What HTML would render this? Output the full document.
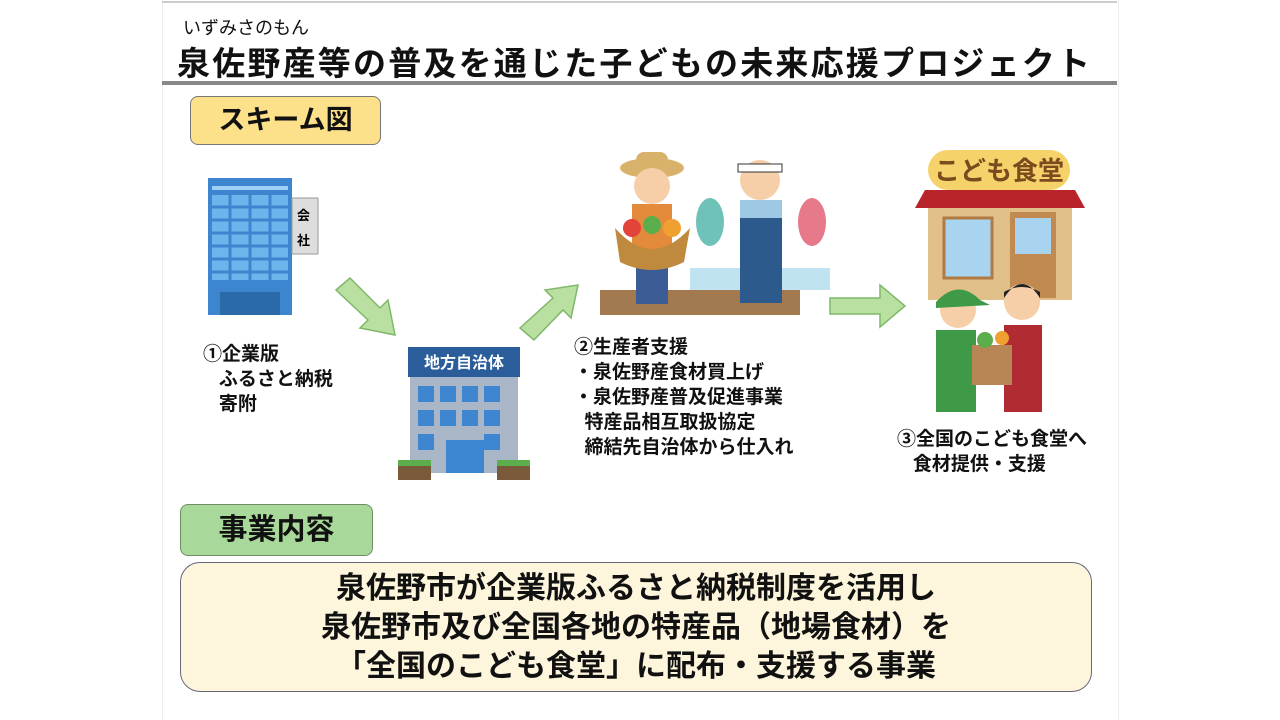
<!DOCTYPE html>
<html><head><meta charset="utf-8"><style>
body{margin:0;width:1280px;height:720px;background:#fff;position:relative;overflow:hidden;font-family:"Liberation Sans","Noto Sans CJK JP",sans-serif;font-weight:bold;color:#111}
.a{position:absolute;white-space:nowrap}
.lbl{font-size:19px;line-height:25px}
</style></head><body>
<div class="a" style="left:162px;top:0;width:955px;height:720px;background:#fff;border-left:1px solid #eee;border-right:1px solid #eee"></div>
<div class="a" style="left:162px;top:1px;width:955px;height:2px;background:#ccc"></div>
<div class="a" style="left:183px;top:14px;font-size:18px;font-weight:normal">いずみさのもん</div>
<div class="a" style="left:177px;top:37px;font-size:33px;letter-spacing:2.2px">泉佐野産等の普及を通じた子どもの未来応援プロジェクト</div>
<div class="a" style="left:162px;top:81px;width:955px;height:4px;background:#888"></div>
<div class="a" style="left:190px;top:96px;width:189px;height:47px;background:#fde08a;border:1.5px solid #777;border-radius:8px;font-size:27px;text-align:center;line-height:47px">スキーム図</div>

<svg class="a" style="left:0;top:0" width="1280" height="720">
<rect x="208" y="178" width="84" height="137" fill="#3d86cf"/>
<rect x="212" y="186" width="76" height="4" fill="#9fd0f5"/>
<rect x="212" y="195" width="76" height="85" fill="#6cb4ec"/>
<g stroke="#3d86cf" stroke-width="3">
<line x1="212" y1="207" x2="288" y2="207"/><line x1="212" y1="220" x2="288" y2="220"/><line x1="212" y1="233" x2="288" y2="233"/><line x1="212" y1="246" x2="288" y2="246"/><line x1="212" y1="259" x2="288" y2="259"/><line x1="212" y1="272" x2="288" y2="272"/>
<line x1="230" y1="195" x2="230" y2="280"/><line x1="250" y1="195" x2="250" y2="280"/><line x1="270" y1="195" x2="270" y2="280"/>
</g>
<rect x="220" y="292" width="60" height="23" fill="#2a6aa8"/>
<rect x="292" y="198" width="26" height="56" fill="#ddd" stroke="#999"/>
<text x="297" y="220" font-size="13">会</text><text x="297" y="245" font-size="13">社</text>
<polygon points="336,290 350,278 380,308 388,300 395,335 360,328 368,320" fill="#b9e0a0" stroke="#7fb86a" stroke-width="1.5"/>
<polygon points="520,328 534,340 563,310 571,318 578,285 545,290 553,298" fill="#b9e0a0" stroke="#7fb86a" stroke-width="1.5"/>
<polygon points="830,298 880,298 880,285 905,306 880,327 880,314 830,314" fill="#b9e0a0" stroke="#7fb86a" stroke-width="1.5"/>
<rect x="408" y="347" width="112" height="30" fill="#2a5d9a"/>
<text x="464" y="368" font-size="16" fill="#fff" text-anchor="middle">地方自治体</text>
<rect x="410" y="377" width="108" height="96" fill="#a9b6c8"/>
<g fill="#3d86cf">
<rect x="418" y="386" width="16" height="16"/><rect x="440" y="386" width="16" height="16"/><rect x="462" y="386" width="16" height="16"/><rect x="484" y="386" width="16" height="16"/>
<rect x="418" y="410" width="16" height="16"/><rect x="440" y="410" width="16" height="16"/><rect x="462" y="410" width="16" height="16"/><rect x="484" y="410" width="16" height="16"/>
<rect x="418" y="434" width="16" height="16"/><rect x="484" y="434" width="16" height="16"/>
<rect x="446" y="440" width="38" height="33"/>
</g>
<rect x="398" y="464" width="33" height="16" fill="#7b5a3c"/><rect x="497" y="464" width="33" height="16" fill="#7b5a3c"/>
<rect x="398" y="460" width="33" height="6" fill="#5cae4c"/><rect x="497" y="460" width="33" height="6" fill="#5cae4c"/>
<rect x="600" y="290" width="200" height="25" fill="#a37a50"/>
<rect x="690" y="268" width="140" height="22" fill="#bfe3f0"/>
<ellipse cx="652" cy="168" rx="32" ry="10" fill="#d8b26a"/>
<rect x="636" y="152" width="32" height="18" rx="8" fill="#d8b26a"/>
<circle cx="652" cy="186" r="18" fill="#f6cfa8"/>
<rect x="632" y="204" width="40" height="45" fill="#e38b3a"/>
<rect x="636" y="249" width="32" height="55" fill="#3b5c94"/>
<path d="M615,228 Q652,270 690,228 L684,262 Q652,278 620,262 Z" fill="#c08a3e"/>
<circle cx="632" cy="228" r="9" fill="#e2433a"/><circle cx="652" cy="225" r="9" fill="#5cae4c"/><circle cx="672" cy="228" r="9" fill="#f0a030"/>
<circle cx="760" cy="180" r="20" fill="#f6cfa8"/>
<rect x="738" y="164" width="44" height="8" fill="#fff" stroke="#333"/>
<rect x="740" y="200" width="42" height="50" fill="#9ec9e4"/>
<rect x="740" y="218" width="42" height="85" fill="#2d5a8c"/>
<ellipse cx="710" cy="222" rx="14" ry="24" fill="#6fc2b8"/>
<ellipse cx="812" cy="222" rx="14" ry="24" fill="#e77a8a"/>
<rect x="928" y="150" width="142" height="40" rx="20" fill="#f5d36a"/>
<text x="999" y="180" font-size="26" fill="#7b4a1e" text-anchor="middle">こども食堂</text>
<polygon points="925,190 1075,190 1085,208 915,208" fill="#b8242a"/>
<rect x="928" y="208" width="144" height="92" fill="#e1bf88"/>
<rect x="944" y="218" width="48" height="60" fill="#a8d4ef" stroke="#b07a44" stroke-width="3"/>
<rect x="1010" y="212" width="46" height="86" fill="#c08a50"/>
<rect x="1015" y="218" width="36" height="36" fill="#a8d4ef"/>
<circle cx="958" cy="310" r="18" fill="#f6cfa8"/>
<path d="M936,302 Q958,278 980,300 L990,305 L936,308Z" fill="#3e9a47"/>
<rect x="936" y="330" width="40" height="82" fill="#3e9a47"/>
<circle cx="1022" cy="302" r="18" fill="#f6cfa8"/>
<path d="M1004,298 Q1022,270 1040,298 L1040,292 Q1022,282 1004,292Z" fill="#222"/>
<rect x="1004" y="325" width="38" height="87" fill="#b02b32"/>
<rect x="972" y="345" width="40" height="40" fill="#b88654"/>
<circle cx="985" cy="340" r="8" fill="#5cae4c"/><circle cx="1002" cy="338" r="7" fill="#f0a030"/>
</svg>

<div class="a lbl" style="left:203px;top:342px">①企業版<br>&nbsp;&nbsp;&nbsp;ふるさと納税<br>&nbsp;&nbsp;&nbsp;寄附</div>
<div class="a lbl" style="left:574px;top:335px">②生産者支援<br>・泉佐野産食材買上げ<br>・泉佐野産普及促進事業<br>&nbsp;&nbsp;特産品相互取扱協定<br>&nbsp;&nbsp;締結先自治体から仕入れ</div>
<div class="a lbl" style="left:897px;top:427px">③全国のこども食堂へ<br>&nbsp;&nbsp;&nbsp;食材提供・支援</div>

<div class="a" style="left:180px;top:504px;width:191px;height:50px;background:#a9d99a;border:1.5px solid #6e8f66;border-radius:8px;font-size:29px;text-align:center;line-height:50px">事業内容</div>
<div class="a" style="left:180px;top:562px;width:912px;height:130px;background:#fdf6dc;border:1.5px solid #667;border-radius:20px;font-size:30px;text-align:center;line-height:39px;padding-top:6px;box-sizing:border-box">泉佐野市が企業版ふるさと納税制度を活用し<br>泉佐野市及び全国各地の特産品（地場食材）を<br>「全国のこども食堂」に配布・支援する事業</div>
</body></html>
